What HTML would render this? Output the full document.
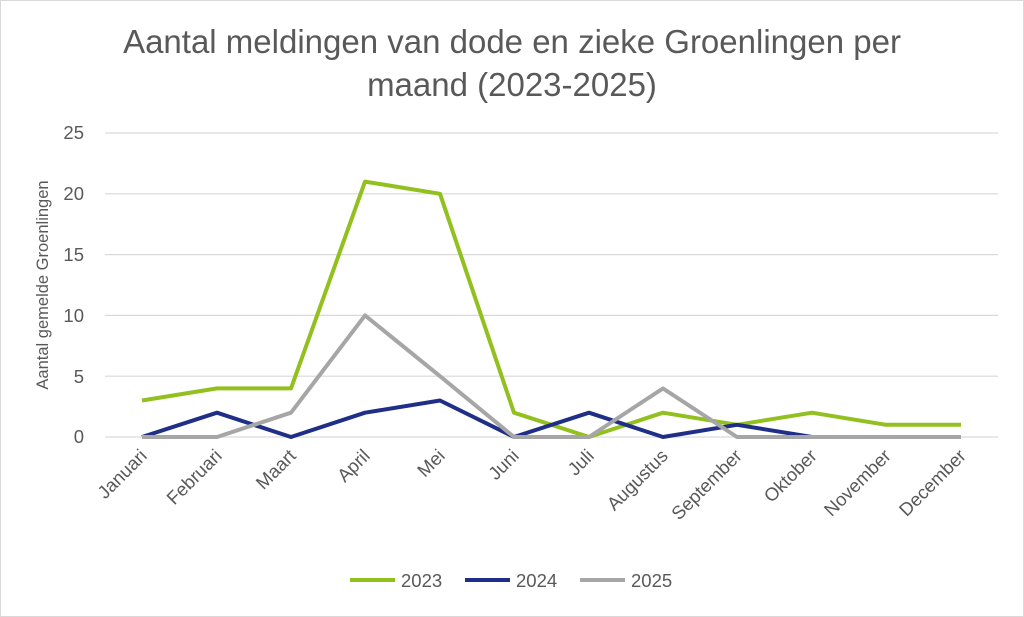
<!DOCTYPE html>
<html><head><meta charset="utf-8"><style>
html,body{margin:0;padding:0;background:#fff;}
svg{display:block;font-family:"Liberation Sans","DejaVu Sans",sans-serif;}
</style></head><body>
<svg width="1024" height="617" viewBox="0 0 1024 617" xmlns="http://www.w3.org/2000/svg">
<rect x="0.5" y="0.5" width="1023" height="616" fill="#fff" stroke="#d9d9d9"/>
<text x="512" y="53" text-anchor="middle" font-size="33" fill="#595959">Aantal meldingen van dode en zieke Groenlingen per</text>
<text x="512" y="96" text-anchor="middle" font-size="33" fill="#595959">maand (2023-2025)</text>
<g stroke="#d9d9d9" stroke-width="1.2">
<line x1="105" x2="998" y1="133" y2="133"/>
<line x1="105" x2="998" y1="193.8" y2="193.8"/>
<line x1="105" x2="998" y1="254.6" y2="254.6"/>
<line x1="105" x2="998" y1="315.4" y2="315.4"/>
<line x1="105" x2="998" y1="376.2" y2="376.2"/>
<line x1="105" x2="998" y1="437" y2="437"/>
</g>
<g font-size="18.5" fill="#595959" text-anchor="end">
<text x="84" y="139">25</text>
<text x="84" y="200">20</text>
<text x="84" y="261">15</text>
<text x="84" y="322">10</text>
<text x="84" y="383">5</text>
<text x="84" y="443">0</text>
</g>
<text transform="translate(48,285) rotate(-90)" text-anchor="middle" font-size="16.5" fill="#595959">Aantal gemelde Groenlingen</text>
<g font-size="18.5" fill="#595959" text-anchor="end">
<text transform="translate(148,457) rotate(-45)">Januari</text>
<text transform="translate(223,457) rotate(-45)">Februari</text>
<text transform="translate(297,457) rotate(-45)">Maart</text>
<text transform="translate(371,457) rotate(-45)">April</text>
<text transform="translate(446,457) rotate(-45)">Mei</text>
<text transform="translate(520,457) rotate(-45)">Juni</text>
<text transform="translate(595,457) rotate(-45)">Juli</text>
<text transform="translate(669,457) rotate(-45)">Augustus</text>
<text transform="translate(743,457) rotate(-45)">September</text>
<text transform="translate(818,457) rotate(-45)">Oktober</text>
<text transform="translate(892,457) rotate(-45)">November</text>
<text transform="translate(967,457) rotate(-45)">December</text>
</g>
<g fill="none" stroke-width="4" stroke-linejoin="round">
<polyline stroke="#92c01f" points="142,400.5 217,388.4 291,388.4 365,181.6 440,193.8 514,412.7 589,437 663,412.7 737,424.8 812,412.7 886,424.8 961,424.8"/>
<polyline stroke="#1f2f87" points="142,437 217,412.7 291,437 365,412.7 440,400.5 514,437 589,412.7 663,437 737,424.8 812,437 886,437 961,437"/>
<polyline stroke="#a6a6a6" points="142,437 217,437 291,412.7 365,315.4 440,376.2 514,437 589,437 663,388.4 737,437 812,437 886,437 961,437"/>
</g>
<g font-size="18.5" fill="#595959">
<line x1="350" x2="395" y1="580" y2="580" stroke="#92c01f" stroke-width="4"/>
<text x="401" y="587">2023</text>
<line x1="465" x2="510" y1="580" y2="580" stroke="#1f2f87" stroke-width="4"/>
<text x="516" y="587">2024</text>
<line x1="580" x2="625" y1="580" y2="580" stroke="#a6a6a6" stroke-width="4"/>
<text x="631" y="587">2025</text>
</g>
</svg>
</body></html>
